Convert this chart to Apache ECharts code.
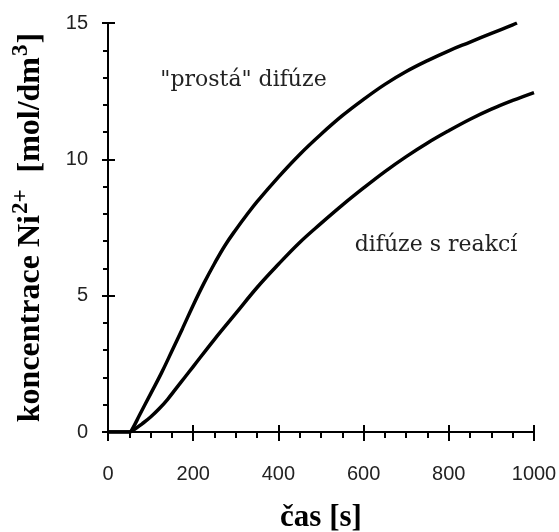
<!DOCTYPE html>
<html>
<head>
<meta charset="utf-8">
<script src="https://cdn.jsdelivr.net/npm/echarts@6/dist/echarts.min.js"></script>
<style>
  html, body { margin: 0; padding: 0; background: #fff; }
  #chart { width: 559px; height: 532px; }
</style>
</head>
<body>
<div id="chart"></div>
<script>
// Time axis (s) and Ni2+ concentration (mol/dm3) for the two diffusion regimes
const timeSimple = [0, 25, 50, 55, 75, 100, 125, 150, 175, 200, 225, 250, 275, 300, 325, 350, 400, 450, 500, 550, 600, 650, 700, 750, 800, 850, 900, 950, 960];
const concSimple = [0, 0, 0, 0.05, 0.65, 1.4, 2.15, 2.97, 3.8, 4.65, 5.45, 6.18, 6.85, 7.42, 7.95, 8.45, 9.35, 10.18, 10.92, 11.6, 12.2, 12.75, 13.22, 13.62, 13.98, 14.3, 14.62, 14.93, 15.0];

const timeReaction = [0, 25, 50, 60, 80, 100, 120, 140, 160, 180, 200, 250, 300, 350, 400, 450, 500, 550, 600, 650, 700, 750, 800, 850, 900, 950, 1000];
const concReaction = [0, 0, 0, 0.07, 0.3, 0.55, 0.85, 1.2, 1.6, 2.0, 2.4, 3.4, 4.35, 5.3, 6.15, 6.95, 7.65, 8.32, 8.95, 9.55, 10.1, 10.6, 11.05, 11.47, 11.84, 12.16, 12.45];

// Curve captions, anchored in data coordinates
const captionTexts = ['"prostá" difúze', 'difúze s reakcí'];
const captionX = [318, 770];
const captionY = [12.9, 6.85];

const xMin = 0, xMax = 1000, xStep = 200;
const yMin = 0, yMax = 15, yStep = 5;

const pairs = (xs, ys) => xs.map((x, i) => [x, ys[i]]);

const tickFont = "'Liberation Sans', Arial, sans-serif";
const titleFont = "'Liberation Serif', 'Times New Roman', serif";
const captionFont = "'DejaVu Serif', serif";

const chart = echarts.init(document.getElementById('chart'), null, { renderer: 'canvas' });

const lineStyle = { color: '#000', width: 2 };

chart.setOption({
  animation: false,
  backgroundColor: '#fff',
  grid: { left: 108, right: 25, top: 23, bottom: 100, outerBoundsMode: 'none', containLabel: false },
  xAxis: [
    {
      type: 'value', min: xMin, max: xMax, interval: xStep,
      axisLine: { lineStyle: lineStyle },
      axisTick: { length: 9, lineStyle: lineStyle },
      minorTick: { show: true, splitNumber: 4, length: 6, lineStyle: lineStyle },
      splitLine: { show: false },
      axisLabel: { margin: 32, color: '#222', fontSize: 20, fontFamily: tickFont, formatter: v => String(v) },
      name: 'čas [s]',
      nameLocation: 'middle',
      nameGap: 70,
      nameTextStyle: { fontFamily: titleFont, fontWeight: 'bold', fontSize: 31, color: '#000' }
    },
    {
      type: 'value', min: xMin, max: xMax, interval: xStep, position: 'bottom',
      axisLine: { show: false },
      axisTick: { inside: true, length: 7, lineStyle: lineStyle },
      axisLabel: { show: false },
      splitLine: { show: false }
    }
  ],
  yAxis: [
    {
      type: 'value', min: yMin, max: yMax, interval: yStep,
      axisLine: { show: true, lineStyle: lineStyle },
      axisTick: { show: true, length: 6, lineStyle: lineStyle },
      minorTick: { show: true, splitNumber: 5, length: 5, lineStyle: lineStyle },
      splitLine: { show: false },
      axisLabel: { margin: 20, color: '#222', fontSize: 20, fontFamily: tickFont },
      name: '{t|koncentrace Ni}{s|2+}{t|  [mol/dm}{s|3}{t|]}',
      nameLocation: 'middle',
      nameRotate: 90,
      nameGap: 57,
      nameTextStyle: {
        rich: {
          t: { fontFamily: titleFont, fontWeight: 'bold', fontSize: 32, color: '#000' },
          s: { fontFamily: titleFont, fontWeight: 'bold', fontSize: 23, color: '#000', padding: [0, 1, 18, 1] }
        }
      }
    },
    {
      type: 'value', min: yMin, max: yMax, interval: yStep, position: 'left',
      axisLine: { show: false },
      axisTick: { show: true, inside: true, length: 7, lineStyle: lineStyle },
      axisLabel: { show: false },
      splitLine: { show: false }
    }
  ],
  series: [
    {
      name: '"prostá" difúze', type: 'line', smooth: 0.4, symbol: 'none',
      xAxisIndex: 0, yAxisIndex: 0, clip: true,
      lineStyle: { color: '#000', width: 3.5 },
      data: pairs(timeSimple, concSimple)
    },
    {
      name: 'difúze s reakcí', type: 'line', smooth: 0.4, symbol: 'none',
      xAxisIndex: 0, yAxisIndex: 0, clip: true,
      lineStyle: { color: '#000', width: 3.5 },
      data: pairs(timeReaction, concReaction)
    }
  ]
});

// Place the captions once the scales exist
chart.setOption({
  graphic: captionTexts.map((txt, i) => {
    const p = chart.convertToPixel({ xAxisIndex: 0, yAxisIndex: 0 }, [captionX[i], captionY[i]]);
    return {
      type: 'text', x: p[0], y: p[1],
      style: {
        text: txt, fill: '#222', font: '22px ' + captionFont,
        textAlign: 'center', textVerticalAlign: 'middle'
      }
    };
  })
});
</script>
</body>
</html>
